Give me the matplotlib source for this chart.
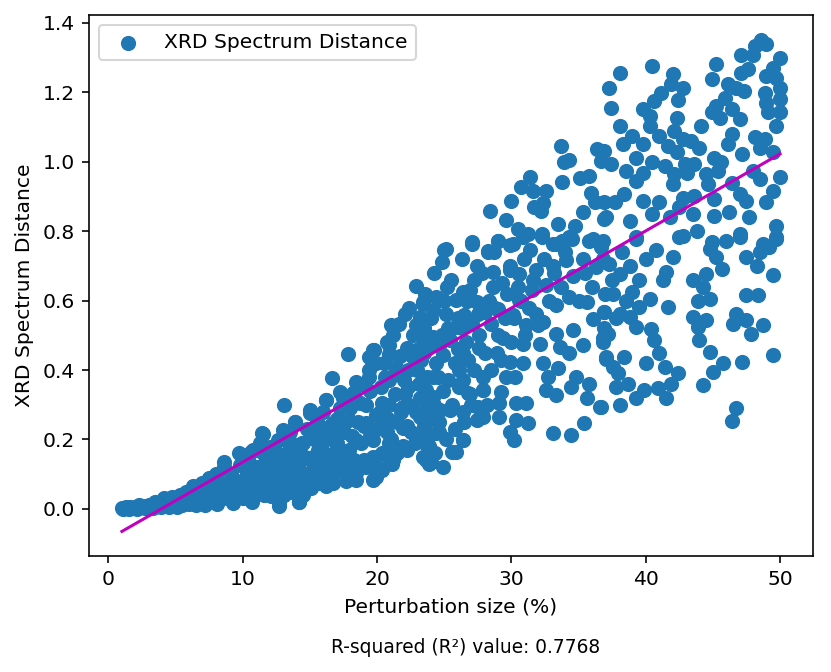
import numpy as np
import matplotlib
matplotlib.use("Agg")
import matplotlib.pyplot as plt

# points, (perturbation %, distance), grouped by region
low_band = [
    (1.0, 0.002), (1.2, 0.003), (1.4, 0.002), (1.6, 0.004), (1.8, 0.003), (2.0, 0.005),
    (2.2, 0.004), (2.4, 0.006), (2.6, 0.008), (2.8, 0.005), (3.0, 0.01), (3.2, 0.007),
    (3.4, 0.012), (3.6, 0.009), (3.8, 0.015), (4.0, 0.011), (4.2, 0.018), (4.4, 0.008),
    (4.6, 0.02), (4.8, 0.013), (5.0, 0.025), (1.1, 0.0), (1.5, 0.0), (2.1, 0.001),
    (2.7, 0.002), (3.3, 0.003), (3.9, 0.004), (4.5, 0.005), (5.1, 0.006), (1.3, 0.006),
    (2.3, 0.01), (3.5, 0.02), (4.1, 0.03), (4.7, 0.035), (5.3, 0.04),
    (5.5, 0.01), (5.6, 0.03), (5.8, 0.05), (6.0, 0.015), (6.2, 0.04), (6.3, 0.065),
    (6.5, 0.012), (6.7, 0.03), (6.9, 0.055), (7.0, 0.075), (7.2, 0.01), (7.4, 0.04),
    (7.5, 0.09), (7.7, 0.025), (7.9, 0.06), (8.0, 0.1), (8.1, 0.015), (8.3, 0.045),
    (8.4, 0.075), (8.6, 0.12), (8.6, 0.136), (8.8, 0.03), (9.0, 0.06), (9.1, 0.1),
    (9.3, 0.016), (9.4, 0.045), (9.6, 0.08), (9.75, 0.16), (9.8, 0.125), (10.0, 0.03),
    (10.1, 0.06), (10.3, 0.1), (10.4, 0.14), (10.6, 0.165), (10.7, 0.02), (10.9, 0.055),
    (11.0, 0.085), (11.2, 0.12), (11.4, 0.218), (11.5, 0.16), (11.3, 0.19),
]

mid_band = [
    (11.6, 0.04), (11.8, 0.07), (12.0, 0.1), (12.1, 0.036), (12.2, 0.14), (12.4, 0.17),
    (12.6, 0.199), (12.7, 0.007), (12.7, 0.021), (12.9, 0.06), (13.0, 0.09), (13.1, 0.3),
    (13.2, 0.12), (13.3, 0.16), (13.5, 0.22), (13.7, 0.05), (13.8, 0.11), (13.9, 0.25),
    (14.0, 0.08), (14.2, 0.021), (14.3, 0.14), (14.4, 0.19), (14.5, 0.04), (14.7, 0.1),
    (14.8, 0.23), (15.0, 0.275), (15.1, 0.06), (15.2, 0.15), (15.3, 0.2), (15.5, 0.251),
    (15.6, 0.074), (15.7, 0.12), (15.9, 0.17), (16.0, 0.28), (16.2, 0.313), (16.2, 0.065),
    (16.4, 0.1), (16.6, 0.2), (16.7, 0.074), (16.8, 0.16), (17.0, 0.26), (17.2, 0.337),
    (17.3, 0.11), (17.5, 0.22), (17.7, 0.08), (17.9, 0.17), (18.0, 0.29), (18.2, 0.333),
    (18.4, 0.084), (18.6, 0.25), (18.8, 0.36), (19.0, 0.14), (19.2, 0.3), (19.4, 0.4),
    (19.5, 0.21), (19.7, 0.084), (19.9, 0.27), (20.1, 0.12), (20.3, 0.35), (20.5, 0.42),
    (20.7, 0.22), (20.9, 0.3), (21.1, 0.13), (21.3, 0.39), (21.5, 0.25), (21.7, 0.44),
    (21.9, 0.18), (22.1, 0.33), (22.3, 0.4), (22.5, 0.22), (22.7, 0.5), (22.9, 0.28),
    (23.1, 0.36), (23.3, 0.43), (23.5, 0.52), (23.7, 0.2), (23.8, 0.3), (24.0, 0.135),
    (24.3, 0.16), (24.5, 0.38),
]

# extra points inside the solid part of the band
band_fill = [
    (10.2, 0.08), (10.5, 0.12), (10.8, 0.1), (11.1, 0.05), (11.4, 0.1), (11.7, 0.15),
    (12.0, 0.13), (12.3, 0.06), (12.5, 0.1), (12.8, 0.15), (13.1, 0.04), (13.4, 0.08),
    (13.6, 0.19), (13.9, 0.16), (14.1, 0.12), (14.4, 0.06), (14.6, 0.15), (14.9, 0.09),
    (15.1, 0.21), (15.4, 0.1), (15.6, 0.17), (15.8, 0.22), (16.0, 0.13), (16.3, 0.08),
    (16.5, 0.24), (16.8, 0.12), (17.0, 0.19), (17.2, 0.29), (17.4, 0.15), (17.6, 0.25),
    (17.8, 0.12), (18.1, 0.21), (18.3, 0.14), (18.5, 0.31), (18.8, 0.19), (19.0, 0.24),
    (19.2, 0.12), (19.5, 0.34), (19.7, 0.15), (20.0, 0.23), (20.2, 0.28), (20.4, 0.16),
    (20.6, 0.38), (20.8, 0.26), (21.0, 0.2), (21.3, 0.33), (21.5, 0.16), (21.8, 0.28),
    (22.0, 0.37), (22.2, 0.24), (22.4, 0.3), (22.6, 0.44), (22.8, 0.19), (23.0, 0.4),
    (23.2, 0.32), (23.5, 0.24), (23.7, 0.38), (23.9, 0.47), (24.2, 0.3), (24.4, 0.42),
    (24.6, 0.25), (24.9, 0.34), (25.1, 0.2), (25.3, 0.52), (25.6, 0.3), (25.8, 0.23),
    (26.1, 0.35), (26.3, 0.52), (26.5, 0.25), (26.8, 0.43), (27.0, 0.3), (27.6, 0.5),
    (27.9, 0.38), (28.2, 0.3), (28.5, 0.4), (28.8, 0.58), (29.2, 0.43), (29.5, 0.55),
    (30.0, 0.48), (30.3, 0.38), (30.7, 0.6), (31.0, 0.5), (21.0, 0.53), (22.4, 0.58),
    (24.0, 0.55), (25.2, 0.64), (26.7, 0.6), (27.2, 0.66), (24.6, 0.47), (26.0, 0.46),
    (26.9, 0.332), (27.9, 0.342), (27.4, 0.256), (26.4, 0.198), (25.9, 0.165),
]

band_upper = [
    (22.86, 0.641), (23.45, 0.591), (22.04, 0.56), (21.6, 0.534), (23.2, 0.553), (22.9, 0.529),
    (21.2, 0.5), (20.7, 0.481), (23.4, 0.486), (19.8, 0.457), (17.8, 0.445), (19.4, 0.438),
    (20.9, 0.447), (22.9, 0.457),
    (19.7, 0.457), (20.9, 0.471), (22.2, 0.462), (23.4, 0.466), (19.9, 0.419), (21.4, 0.409),
    (22.9, 0.419), (16.65, 0.376), (18.4, 0.366), (19.4, 0.38), (20.9, 0.371), (22.3, 0.352),
    (23.65, 0.342), (15.0, 0.284), (16.2, 0.313), (17.45, 0.318), (18.7, 0.304), (20.4, 0.304),
    (21.9, 0.294), (23.2, 0.266), (11.5, 0.217), (13.0, 0.227), (13.85, 0.251), (15.5, 0.246),
    (16.7, 0.246), (17.9, 0.256), (19.2, 0.246), (20.4, 0.256), (21.9, 0.232), (10.75, 0.17),
    (12.0, 0.179), (13.2, 0.198), (14.5, 0.189), (15.7, 0.198), (16.95, 0.208), (18.4, 0.198),
    (19.7, 0.198), (20.9, 0.189), (22.2, 0.17), (23.65, 0.141), (20.9, 0.15), (11.0, 0.122),
    (12.2, 0.131), (13.7, 0.141), (15.2, 0.131), (16.5, 0.15), (17.7, 0.146), (18.9, 0.131),
    (19.9, 0.093), (18.4, 0.102), (16.5, 0.074), (15.2, 0.083), (13.7, 0.083), (12.0, 0.074),
    (10.9, 0.055), (12.7, 0.021), (14.2, 0.021), (13.0, 0.064),
    (23.4, 0.15), (23.9, 0.13), (24.9, 0.122), (21.2, 0.141), (20.4, 0.112), (23.9, 0.18),
    (24.4, 0.218), (23.7, 0.266), (24.65, 0.285),
]

centre = [
    (25.0, 0.745), (24.8, 0.711), (27.1, 0.764), (28.25, 0.74), (29.0, 0.773), (29.9, 0.759),
    (30.85, 0.783), (31.35, 0.745), (32.3, 0.783), (33.3, 0.764), (34.5, 0.778), (35.8, 0.773),
    (36.7, 0.754), (27.4, 0.701), (28.6, 0.682), (29.9, 0.687), (30.6, 0.677), (31.85, 0.687),
    (33.1, 0.701), (34.1, 0.716), (35.3, 0.72), (36.3, 0.697), (32.6, 0.644), (31.5, 0.63),
    (28.6, 0.639), (29.7, 0.62), (26.4, 0.625), (24.4, 0.61), (23.4, 0.596), (25.9, 0.601),
    (27.4, 0.596), (30.6, 0.601), (34.3, 0.61), (35.6, 0.596), (36.9, 0.567), (33.3, 0.586),
    (29.0, 0.577), (24.15, 0.572), (25.15, 0.562), (26.5, 0.558), (28.0, 0.567), (30.1, 0.558),
    (31.85, 0.562), (36.1, 0.548), (23.4, 0.529), (25.9, 0.524), (27.1, 0.534), (28.5, 0.534),
    (31.1, 0.529), (32.35, 0.539), (34.6, 0.515), (33.3, 0.505), (36.8, 0.491), (35.3, 0.471),
    (24.15, 0.495), (25.4, 0.486), (29.4, 0.491), (30.85, 0.476), (32.1, 0.476), (33.6, 0.467),
    (34.3, 0.448), (23.5, 0.448), (24.9, 0.443), (26.4, 0.448), (27.6, 0.462), (28.9, 0.448),
    (29.9, 0.424), (30.85, 0.419), (37.05, 0.433), (32.35, 0.419), (33.5, 0.405), (26.1, 0.4),
    (24.15, 0.381), (25.3, 0.371), (26.4, 0.371), (32.7, 0.381), (34.8, 0.381), (35.8, 0.361),
    (27.9, 0.342), (29.2, 0.337), (32.6, 0.342), (33.3, 0.328), (34.45, 0.352), (24.15, 0.323),
    (26.8, 0.333), (35.6, 0.318), (36.6, 0.294), (29.1, 0.304), (30.35, 0.304), (31.1, 0.304),
    (27.5, 0.294), (25.4, 0.285), (26.4, 0.28), (24.4, 0.256), (27.9, 0.266), (29.1, 0.266),
    (30.35, 0.256), (31.2, 0.246), (35.4, 0.246), (23.5, 0.222), (24.6, 0.222), (26.4, 0.199),
    (29.9, 0.222), (30.2, 0.199), (33.1, 0.218), (34.45, 0.213), (23.7, 0.18), (25.6, 0.165),
    (23.6, 0.62), (24.2, 0.68), (24.8, 0.5), (25.0, 0.6), (25.5, 0.66), (25.8, 0.42),
    (26.0, 0.55), (26.3, 0.72), (26.6, 0.48), (26.9, 0.63), (27.2, 0.4), (27.5, 0.56),
    (27.8, 0.68), (28.0, 0.45), (28.3, 0.6), (28.7, 0.74), (29.0, 0.5), (29.3, 0.65),
    (29.6, 0.38), (29.9, 0.7), (30.2, 0.55), (30.5, 0.64), (30.9, 0.72), (31.3, 0.58),
    (31.6, 0.66), (32.0, 0.53), (32.4, 0.72), (32.8, 0.6), (33.2, 0.68), (33.7, 0.64),
    (34.0, 0.74), (34.6, 0.67), (35.0, 0.6), (35.5, 0.68), (36.0, 0.64),
]

upper_mid = [
    (33.7, 1.046), (36.4, 1.036), (33.95, 0.998), (34.3, 1.005), (36.7, 1.003), (31.35, 0.955),
    (30.7, 0.928), (31.6, 0.916), (32.6, 0.916), (33.8, 0.942), (35.1, 0.953), (35.8, 0.96),
    (35.9, 0.909), (36.2, 0.883), (30.0, 0.888), (31.7, 0.871), (32.35, 0.88), (32.2, 0.857),
    (28.4, 0.859), (29.6, 0.832), (35.3, 0.854), (36.9, 0.835), (30.5, 0.806), (31.2, 0.792),
    (32.3, 0.792), (33.5, 0.821), (34.7, 0.816), (34.3, 0.782), (36.1, 0.778), (27.1, 0.768),
    (29.0, 0.773), (30.1, 0.763), (25.1, 0.749), (28.25, 0.744), (33.1, 0.763), (33.8, 0.773),
]

upper_right = [
    (48.6, 1.352), (48.97, 1.338), (48.1, 1.333), (47.1, 1.309), (47.97, 1.309), (49.96, 1.30),
    (45.25, 1.282), (40.5, 1.276), (38.1, 1.257), (42.0, 1.252), (47.1, 1.257), (47.6, 1.266),
    (49.5, 1.271), (48.97, 1.247), (49.7, 1.242), (44.9, 1.237), (37.25, 1.213), (41.9, 1.223),
    (42.8, 1.213), (46.1, 1.223), (46.7, 1.213), (47.35, 1.204), (49.96, 1.213), (41.15, 1.199),
    (48.85, 1.199), (40.65, 1.175), (42.4, 1.177), (45.9, 1.185), (50.0, 1.18), (48.97, 1.17),
    (37.4, 1.156), (39.8, 1.151), (45.25, 1.161), (44.9, 1.142), (46.4, 1.151), (49.1, 1.142),
    (50.0, 1.142), (40.3, 1.132), (42.3, 1.127), (45.5, 1.127), (47.0, 1.122), (49.7, 1.103),
    (38.05, 1.103), (44.1, 1.103), (40.3, 1.103), (42.1, 1.089), (39.0, 1.075), (41.0, 1.075),
    (46.4, 1.079), (38.3, 1.052), (39.8, 1.051), (42.8, 1.065), (43.4, 1.06), (48.1, 1.07),
    (48.85, 1.065), (41.65, 1.046), (44.0, 1.041), (46.1, 1.051), (36.9, 1.032), (42.3, 1.027),
    (48.5, 1.041), (49.5, 1.027), (39.3, 1.012), (45.1, 1.012), (47.2, 1.022), (37.4, 0.993),
    (40.5, 0.998), (41.4, 0.988), (42.9, 0.993), (43.6, 0.993), (45.6, 0.998), (38.55, 0.974),
    (39.8, 0.969), (42.1, 0.964), (43.1, 0.969), (44.5, 0.964), (45.4, 0.974), (48.0, 0.974),
    (48.5, 0.95), (49.96, 0.955), (39.3, 0.945), (42.0, 0.936), (44.6, 0.936), (46.4, 0.94),
    (49.5, 0.917), (38.4, 0.907), (37.7, 0.883), (39.8, 0.888), (41.0, 0.883), (42.8, 0.897),
    (43.6, 0.902), (45.1, 0.893), (47.0, 0.907), (47.5, 0.888), (48.97, 0.883), (36.9, 0.883),
    (42.5, 0.869), (40.5, 0.849), (41.8, 0.84), (43.5, 0.849), (45.1, 0.845), (46.2, 0.854),
    (47.7, 0.84), (37.05, 0.84), (38.8, 0.83), (49.7, 0.816), (43.8, 0.801), (47.0, 0.792),
    (39.3, 0.778), (42.8, 0.787), (44.9, 0.768), (46.0, 0.773), (49.7, 0.782), (48.7, 0.763),
    (36.8, 0.773),
]

lower_right = [
    (39.3, 0.783), (42.5, 0.783), (47.0, 0.783), (49.7, 0.778), (40.8, 0.745), (42.0, 0.725),
    (44.75, 0.749), (45.25, 0.725), (47.5, 0.725), (48.5, 0.74), (49.2, 0.754), (40.0, 0.72),
    (37.3, 0.706), (38.05, 0.677), (45.7, 0.692), (48.3, 0.701), (41.5, 0.682), (41.3, 0.658),
    (44.5, 0.677), (43.5, 0.658), (49.5, 0.673), (44.25, 0.639), (39.0, 0.625), (37.55, 0.62),
    (40.3, 0.606), (39.5, 0.582), (44.75, 0.606), (43.9, 0.599), (47.5, 0.615), (48.35, 0.615),
    (41.65, 0.582), (36.9, 0.567), (38.05, 0.562), (38.8, 0.553), (43.5, 0.553), (44.5, 0.543),
    (46.7, 0.562), (46.5, 0.534), (47.5, 0.543), (48.7, 0.529), (39.3, 0.524), (40.4, 0.519),
    (43.9, 0.524), (47.85, 0.505), (37.2, 0.505), (36.8, 0.481), (40.65, 0.486), (44.0, 0.486),
    (41.0, 0.448), (44.75, 0.452), (49.5, 0.443), (37.05, 0.438), (38.4, 0.438), (40.0, 0.419),
    (45.75, 0.419), (47.2, 0.424), (41.4, 0.409), (42.4, 0.39), (37.55, 0.409), (45.0, 0.395),
    (37.9, 0.39), (38.7, 0.361), (37.8, 0.352), (39.9, 0.342), (40.9, 0.347), (41.9, 0.361),
    (44.25, 0.357), (39.3, 0.318), (41.5, 0.318), (38.05, 0.299), (36.7, 0.294), (46.7, 0.29),
    (46.4, 0.254),
    (36.8, 0.72), (37.5, 0.66), (38.2, 0.74), (38.8, 0.7), (37.0, 0.62), (38.5, 0.6),
    (39.5, 0.66), (37.8, 0.55), (36.9, 0.52),
]

# linear fit
fit_slope = 0.0222
fit_intercept = -0.0872
r_squared = 0.7768

pts = np.array(low_band + mid_band + band_fill + band_upper + centre
               + upper_mid + upper_right + lower_right)
x = pts[:, 0]
y = pts[:, 1]

fig = plt.figure(figsize=(831 / 146, 672 / 146), dpi=146)
ax = fig.add_axes([0.1071, 0.1726, 0.8712, 0.8051])

ax.scatter(x, y, s=42, label="XRD Spectrum Distance")
x_line = np.array([x.min(), x.max()])
ax.plot(x_line, fit_slope * x_line + fit_intercept, color="m")

ax.set_xlabel("Perturbation size (%)")
ax.set_ylabel("XRD Spectrum Distance")
ax.legend(loc="upper left")

fig.text(0.56, 0.037, f"R-squared (R\u00b2) value: {r_squared}",
         ha="center", va="center", fontsize=9.2)

fig.savefig("out.png", dpi=146)
